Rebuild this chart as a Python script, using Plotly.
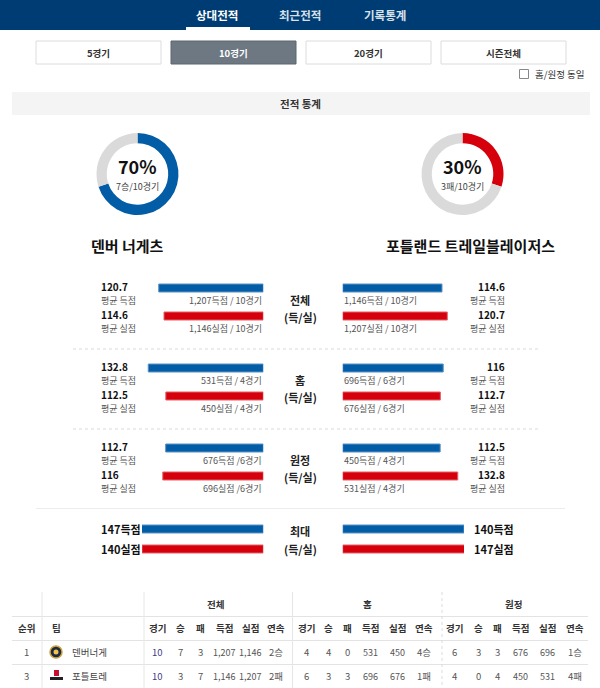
import plotly.graph_objects as go

# ---------------- data ----------------
tabs = ["상대전적", "최근전적", "기록통계"]
buttons = ["5경기", "10경기", "20경기", "시즌전체"]
selected_button = 1

teams = ["덴버 너게츠", "포틀랜드 트레일블레이저스"]
den_wins, den_losses, den_games_total = 7, 3, 10
por_wins, por_losses = 3, 7

sections = ["전체", "홈", "원정"]
den_avg_for = [120.7, 132.8, 112.7]
den_avg_against = [114.6, 112.5, 116]
den_pts_for = ["1,207", "531", "676"]
den_pts_against = ["1,146", "450", "696"]
den_games = [10, 4, 6]
den_sep = [" / ", " / ", " /"]

por_avg_for = [114.6, 116, 112.5]
por_avg_against = [120.7, 112.7, 132.8]
por_pts_for = ["1,146", "696", "450"]
por_pts_against = ["1,207", "676", "531"]
por_games = [10, 6, 4]

max_label = "최대"
den_max = [147, 140]   # 득점, 실점
por_max = [140, 147]

table_groups = ["전체", "홈", "원정"]
table_cols = ["경기", "승", "패", "득점", "실점", "연속"]
table_rank = ["1", "3"]
table_team = ["덴버너게", "포틀트레"]
table_total = [["10", "7", "3", "1,207", "1,146", "2승"],
               ["10", "3", "7", "1,146", "1,207", "2패"]]
table_home = [["4", "4", "0", "531", "450", "4승"],
              ["6", "3", "3", "696", "676", "1패"]]
table_away = [["6", "3", "3", "676", "696", "1승"],
              ["4", "0", "4", "450", "531", "4패"]]

# ---------------- style ----------------
W, H = 600, 688
FONT = "Noto Sans CJK KR"
BLUE = "#035ca6"
RED = "#d6000c"
GRAY_RING = "#dadada"
NAVY = "#003c74"

fig = go.Figure()
ann = []
shapes = []


def txt(x, y, s, size=10, color="#333", bold=False, anchor="center"):
    ann.append(dict(x=x, y=y, xref="x3", yref="y", text=(f"<b>{s}</b>" if bold else s),
                    showarrow=False, xanchor=anchor, yanchor="middle",
                    font=dict(size=size, color=color, family=FONT)))


def rect(x0, y0, x1, y1, fill=None, line=None, lw=1, dash=None, layer="below"):
    shapes.append(dict(type="rect", xref="x3", yref="y", x0=x0, y0=y0, x1=x1, y1=y1,
                       fillcolor=fill if fill else "rgba(0,0,0,0)",
                       line=dict(color=line if line else "rgba(0,0,0,0)", width=lw if line else 0,
                                 dash=dash or "solid"), layer=layer))


def hline(x0, x1, y, color="#e6e6e6", dash=None, w=1):
    shapes.append(dict(type="line", xref="x3", yref="y", x0=x0, x1=x1, y0=y, y1=y,
                       line=dict(color=color, width=w, dash=dash or "solid"), layer="below"))


def vline(x, y0, y1, color="#e6e6e6", dash=None, w=1):
    shapes.append(dict(type="line", xref="x3", yref="y", x0=x, x1=x, y0=y0, y1=y1,
                       line=dict(color=color, width=w, dash=dash or "solid"), layer="below"))


# ---------------- nav bar ----------------
rect(0, 0, 600, 30, fill=NAVY)
tab_x = [217, 300, 385]
for i, t in enumerate(tabs):
    txt(tab_x[i], 14.5, t, size=11.5, color="#ffffff" if i == 0 else "#d8e0ea", bold=True)
rect(186, 27, 250, 30.5, fill="#ffffff")

# ---------------- buttons ----------------
btn_x = [(36, 161), (171, 296), (306, 431), (441, 566)]
for i, b in enumerate(buttons):
    x0, x1 = btn_x[i]
    if i == selected_button:
        rect(x0, 41, x1, 64, fill="#6d7882", line="#5d666e")
        txt((x0 + x1) / 2, 52.5, b, size=9.5, color="#ffffff", bold=True)
    else:
        rect(x0, 41, x1, 64, fill="#ffffff", line="#dcdcdc")
        txt((x0 + x1) / 2, 52.5, b, size=9.5, color="#333", bold=True)
rect(519.5, 69.5, 528.5, 78.5, fill="#ffffff", line="#888")
txt(533, 74, "홈/원정 동일", size=9.5, color="#333", anchor="left")

# ---------------- section header ----------------
rect(12, 92, 590, 115, fill="#f4f4f4")
txt(300, 103.5, "전적 통계", size=10.5, color="#333", bold=True)

# ---------------- donuts ----------------
R = 41
cy = 174
for cx, vals, cols, big, small in [
    (137.5, [den_wins, den_losses], [BLUE, GRAY_RING], f"{round(100*den_wins/den_games_total)}%",
     f"{den_wins}승/{den_games_total}경기"),
    (462.5, [por_wins, por_losses], [RED, GRAY_RING], f"{round(100*por_wins/den_games_total)}%",
     f"{por_wins}패/{den_games_total}경기"),
]:
    fig.add_trace(go.Pie(values=vals, hole=0.75, sort=False, direction="clockwise", rotation=0,
                         marker=dict(colors=cols, line=dict(width=0)), textinfo="none",
                         hoverinfo="skip", showlegend=False,
                         domain=dict(x=[(cx - R) / W, (cx + R) / W],
                                     y=[1 - (cy + R) / H, 1 - (cy - R) / H])))
    txt(cx, cy - 8, big, size=18, color="#111", bold=True)
    txt(cx, cy + 12.5, small, size=9, color="#444")

txt(127, 245, teams[0], size=15, color="#111", bold=True)
txt(470, 245, teams[1], size=15, color="#111", bold=True)

# ---------------- bars ----------------
L_X0, L_X1 = 142, 263.3
R_X0, R_X1 = 342.7, 464
VAL_MAX = 140
BAR_H = 8

row_blue = [288 + 80 * i for i in range(3)]
row_red = [b + 28 for b in row_blue]
max_rows = [529, 549]


def bars(axis, values, ys, color, line_color):
    fig.add_trace(go.Bar(x=values, y=ys, orientation="h", width=BAR_H, xaxis=axis, yaxis="y",
                         marker=dict(color=color, line=dict(color=line_color, width=1)),
                         hoverinfo="skip", showlegend=False))


bars("x", den_avg_for, row_blue, BLUE, "#5c93c6")
bars("x", den_avg_against, row_red, RED, "#e36066")
bars("x2", por_avg_for, row_blue, BLUE, "#5c93c6")
bars("x2", por_avg_against, row_red, RED, "#e36066")
bars("x", [den_max[0]], [max_rows[0]], BLUE, "#5c93c6")
bars("x", [den_max[1]], [max_rows[1]], RED, "#e36066")
bars("x2", [por_max[0]], [max_rows[0]], BLUE, "#5c93c6")
bars("x2", [por_max[1]], [max_rows[1]], RED, "#e36066")

VS, LS = 10, 9
for i, sec in enumerate(sections):
    b = row_blue[i]
    r = row_red[i]
    # left
    txt(99, b - 2, f"{den_avg_for[i]:g}", size=VS, color="#111", bold=True, anchor="left")
    txt(99, b + 12, "평균 득점", size=LS, color="#555", anchor="left")
    txt(263.5, b + 12, f"{den_pts_for[i]}득점{den_sep[i]}{den_games[i]}경기", size=LS, color="#555", anchor="right")
    txt(99, r - 2, f"{den_avg_against[i]:g}", size=VS, color="#111", bold=True, anchor="left")
    txt(99, r + 12, "평균 실점", size=LS, color="#555", anchor="left")
    txt(263.5, r + 12, f"{den_pts_against[i]}실점{den_sep[i]}{den_games[i]}경기", size=LS, color="#555", anchor="right")
    # right
    txt(507, b - 2, f"{por_avg_for[i]:g}", size=VS, color="#111", bold=True, anchor="right")
    txt(507, b + 12, "평균 득점", size=LS, color="#555", anchor="right")
    txt(342, b + 12, f"{por_pts_for[i]}득점 / {por_games[i]}경기", size=LS, color="#555", anchor="left")
    txt(507, r - 2, f"{por_avg_against[i]:g}", size=VS, color="#111", bold=True, anchor="right")
    txt(507, r + 12, "평균 실점", size=LS, color="#555", anchor="right")
    txt(342, r + 12, f"{por_pts_against[i]}실점 / {por_games[i]}경기", size=LS, color="#555", anchor="left")
    # centre
    txt(300, b + 12, sec, size=11, color="#222", bold=True)
    txt(300, b + 28.5, "(득/실)", size=11, color="#222", bold=True)

for y in (349, 429):
    hline(73, 540, y, color="#d9d9d9", dash="dot", w=1)
hline(36, 565, 508.5, color="#ececec", w=1)

txt(99, max_rows[0], f"{den_max[0]}득점", size=11, color="#111", bold=True, anchor="left")
txt(99, max_rows[1], f"{den_max[1]}실점", size=11, color="#111", bold=True, anchor="left")
txt(472, max_rows[0], f"{por_max[0]}득점", size=11, color="#111", bold=True, anchor="left")
txt(472, max_rows[1], f"{por_max[1]}실점", size=11, color="#111", bold=True, anchor="left")
txt(300, 531, max_label, size=11, color="#222", bold=True)
txt(300, 549, "(득/실)", size=11, color="#222", bold=True)

# ---------------- table ----------------
hline(12, 588, 616.5, color="#e3e3e3")
hline(12, 588, 640.5, color="#e3e3e3")
hline(12, 588, 664.5, color="#e3e3e3")
vline(42, 592, 688, color="#e6e6e6")
vline(144, 592, 688, color="#e6e6e6")
vline(292.5, 592, 688, color="#e6e6e6")
vline(442, 592, 688, color="#dcdcdc", dash="dot")

group_x = [215, 367, 513]
for g, gx in zip(table_groups, group_x):
    txt(gx, 604, g, size=9.5, color="#333", bold=True)
col_x = [[157, 180, 200, 224, 250, 276], [306, 328, 347, 370, 397, 424], [454, 478, 497, 520, 547, 575]]
txt(26, 628, "순위", size=9.5, color="#333", bold=True)
txt(50, 628, "팀", size=9.5, color="#333", bold=True, anchor="left")
for g in range(3):
    for c, name in enumerate(table_cols):
        txt(col_x[g][c], 628, name, size=9.5, color="#333", bold=True)

row_y = [652, 676]
for r in range(2):
    y = row_y[r]
    txt(26, y, table_rank[r], size=9.5, color="#555")
    txt(70, y, table_team[r], size=9.5, color="#444", anchor="left")
    for g, data in enumerate([table_total, table_home, table_away]):
        for c, v in enumerate(data[r]):
            col = "#3f3a86" if (g == 0 and c == 0) else "#555"
            txt(col_x[g][c], y, v, size=9 if c in (3, 4) else 9.5, color=col)

# team logos (simple marks)
shapes.append(dict(type="circle", xref="x3", yref="y", x0=50, x1=62, y0=646, y1=658,
                   fillcolor="#1d2a44", line=dict(color="#c8a23a", width=1.5), layer="above"))
shapes.append(dict(type="circle", xref="x3", yref="y", x0=53.5, x1=58.5, y0=649.5, y1=654.5,
                   fillcolor="#f2c14e", line=dict(width=0), layer="above"))
rect(54, 670, 59, 676, fill="#c8102e", layer="above")
rect(50, 677, 63, 680, fill="#222", layer="above")

# ---------------- layout ----------------
fig.update_layout(
    width=W, height=H, autosize=False,
    margin=dict(l=0, r=0, t=0, b=0, pad=0),
    paper_bgcolor="#ffffff", plot_bgcolor="rgba(0,0,0,0)",
    font=dict(family=FONT),
    showlegend=False, barmode="overlay", hovermode=False,
    xaxis=dict(domain=[L_X0 / W, L_X1 / W], range=[VAL_MAX, 0], visible=False, fixedrange=True, anchor="y"),
    xaxis2=dict(domain=[R_X0 / W, R_X1 / W], range=[0, VAL_MAX], visible=False, fixedrange=True, anchor="y"),
    xaxis3=dict(domain=[0, 1], range=[0, W], visible=False, fixedrange=True, anchor="y"),
    yaxis=dict(domain=[0, 1], range=[H, 0], visible=False, fixedrange=True),
    annotations=ann, shapes=shapes,
)

fig.write_html("out.html", config={"displayModeBar": False})
